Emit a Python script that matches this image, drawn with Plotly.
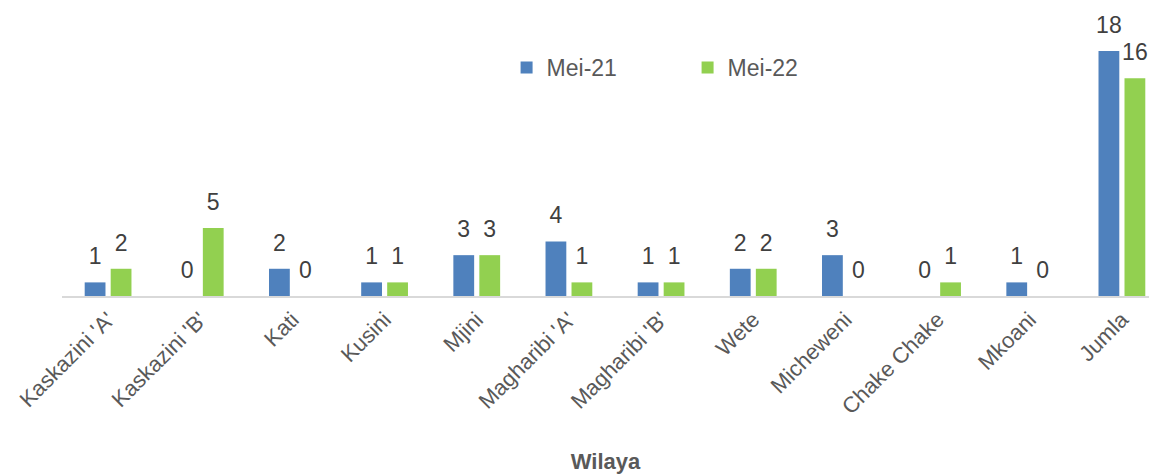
import plotly.graph_objects as go

categories = ["Kaskazini 'A'", "Kaskazini 'B'", "Kati", "Kusini", "Mjini", "Magharibi 'A'",
              "Magharibi 'B'", "Wete", "Micheweni", "Chake Chake", "Mkoani", "Jumla"]
mei21 = [1, 0, 2, 1, 3, 4, 1, 2, 3, 0, 1, 18]
mei22 = [2, 5, 0, 1, 3, 1, 1, 2, 0, 1, 0, 16]

FONT = "Liberation Sans Narrow, Arial Narrow, Liberation Sans, Arial, sans-serif"
LABEL_LIFT = 0.75  # invisible spacer (in value units) that lifts the value labels

fig = go.Figure()
for name, vals, color, grp in [("Mei-21", mei21, "#4F81BD", "a"), ("Mei-22", mei22, "#92D050", "b")]:
    fig.add_trace(go.Bar(name=name, x=categories, y=vals, marker_color=color,
                         marker_line_width=0, offsetgroup=grp, hoverinfo="x+y"))
    fig.add_trace(go.Bar(x=categories, y=[LABEL_LIFT] * len(vals), base=vals,
                         offsetgroup=grp, marker=dict(color="rgba(0,0,0,0)", line=dict(width=0)),
                         showlegend=False,
                         text=[str(v) for v in vals], textposition="outside",
                         constraintext="none", cliponaxis=False, hoverinfo="skip",
                         textfont=dict(size=23, color="#404040", family=FONT)))

fig.update_layout(
    width=1149, height=476,
    margin=dict(l=62, r=0, t=30, b=180),
    plot_bgcolor="white", paper_bgcolor="white",
    barmode="group", bargap=0.436, bargroupgap=0.2,
    font=dict(family=FONT, color="#595959"),
    legend=dict(orientation="h", x=0.409, y=0.859, xanchor="left", yanchor="middle",
                font=dict(size=23, color="#595959", family=FONT),
                entrywidth=136, bgcolor="rgba(0,0,0,0)"),
    showlegend=True,
)
fig.update_xaxes(showline=True, linecolor="#d9d9d9", linewidth=2, tickangle=-45,
                 tickfont=dict(size=22, color="#595959", family=FONT),
                 ticks="", showgrid=False, range=[-0.5, 11.294],
                 title=dict(text="<b>Wilaya</b>", font=dict(size=22, color="#595959", family=FONT), standoff=36))
fig.update_yaxes(visible=False, range=[0, 19.54], showgrid=False)

fig.write_html("out.html", config={"displayModeBar": False},
               post_script="document.body.style.margin='0';")
